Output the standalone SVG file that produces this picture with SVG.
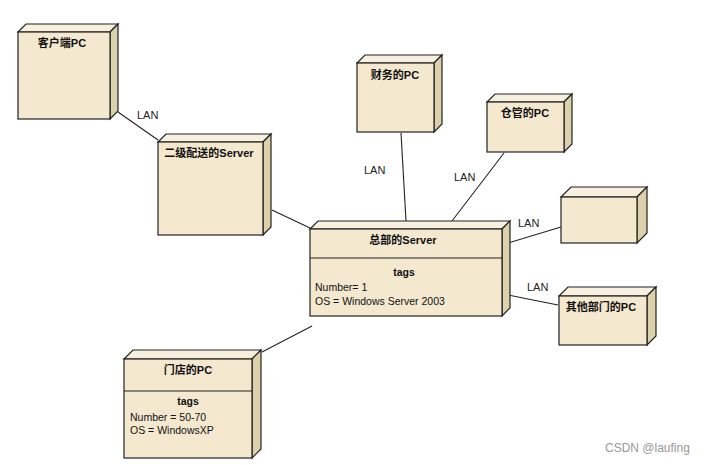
<svg xmlns="http://www.w3.org/2000/svg" width="707" height="465" viewBox="0 0 707 465">
<style>
.front{fill:#F4E8CF;stroke:#222;stroke-width:1.2}
.top{fill:#F8F0DE;stroke:#222;stroke-width:1.2}
.side{fill:#DCD1AA;stroke:#222;stroke-width:1.2}
.div{stroke:#222;stroke-width:1.2}
.title{font-family:"Liberation Sans","Noto Sans CJK SC",sans-serif;font-size:11px;font-weight:bold;fill:#111;text-anchor:middle}
.tag{font-family:"Liberation Sans",sans-serif;font-size:10.5px;fill:#111}
.tagh{font-family:"Liberation Sans",sans-serif;font-size:10.5px;font-weight:bold;fill:#111;text-anchor:middle}
.lan{font-family:"Liberation Sans",sans-serif;font-size:11px;fill:#222}
.conn line{stroke:#222;stroke-width:1.1}
</style>
<rect width="707" height="465" fill="#fff"/>
<g id="connectors" class="conn">
<line x1="118" y1="112" x2="158" y2="140"/>
<line x1="272" y1="210" x2="310" y2="228"/>
<line x1="401" y1="133" x2="406" y2="221"/>
<line x1="504" y1="153" x2="452" y2="221"/>
<line x1="561" y1="227" x2="508" y2="243"/>
<line x1="558" y1="305" x2="508" y2="295"/>
<line x1="312" y1="326" x2="262" y2="352"/>
<text class="lan" x="137" y="119">LAN</text>
<text class="lan" x="364" y="174">LAN</text>
<text class="lan" x="454" y="181">LAN</text>
<text class="lan" x="518" y="227">LAN</text>
<text class="lan" x="527" y="291">LAN</text>
</g>
<g id="client-pc">
<polygon class="top" points="18,32 26,24 118,24 110,32"/>
<polygon class="side" points="110,32 118,24 118,111 110,119"/>
<rect class="front" x="18" y="32" width="92" height="87"/>
<text class="title" x="62" y="47">客户端PC</text>
</g>
<g id="level2-server">
<polygon class="top" points="158,142 166,134 271,134 263,142"/>
<polygon class="side" points="263,142 271,134 271,227 263,235"/>
<rect class="front" x="158" y="142" width="105" height="93"/>
<text class="title" x="209" y="157">二级配送的Server</text>
</g>
<g id="finance-pc">
<polygon class="top" points="357,63 365,55 442,55 434,63"/>
<polygon class="side" points="434,63 442,55 442,124 434,132"/>
<rect class="front" x="357" y="63" width="77" height="69"/>
<text class="title" x="395" y="79">财务的PC</text>
</g>
<g id="warehouse-pc">
<polygon class="top" points="487,102 495,94 572,94 564,102"/>
<polygon class="side" points="564,102 572,94 572,144 564,152"/>
<rect class="front" x="487" y="102" width="77" height="50"/>
<text class="title" x="525" y="117">仓管的PC</text>
</g>
<g id="blank-node">
<polygon class="top" points="561,197 571,187 647,187 637,197"/>
<polygon class="side" points="637,197 647,187 647,233 637,243"/>
<rect class="front" x="561" y="197" width="76" height="46"/>
</g>
<g id="other-dept-pc">
<polygon class="top" points="559,296 568,287 656,287 647,296"/>
<polygon class="side" points="647,296 656,287 656,336 647,345"/>
<rect class="front" x="559" y="296" width="88" height="49"/>
<text class="title" x="601" y="311">其他部门的PC</text>
</g>
<g id="hq-server">
<polygon class="top" points="310,229 318,221 510,221 502,229"/>
<polygon class="side" points="502,229 510,221 510,308 502,316"/>
<rect class="front" x="310" y="229" width="192" height="87"/>
<line class="div" x1="310" y1="258" x2="502" y2="258"/>
<text class="title" x="403" y="244">总部的Server</text>
<text class="tagh" x="404" y="276">tags</text>
<text class="tag" x="315" y="291">Number= 1</text>
<text class="tag" x="315" y="305">OS = Windows Server 2003</text>
</g>
<g id="store-pc">
<polygon class="top" points="124,359 133,350 261,350 252,359"/>
<polygon class="side" points="252,359 261,350 261,449 252,458"/>
<rect class="front" x="124" y="359" width="128" height="99"/>
<line class="div" x1="124" y1="391" x2="252" y2="391"/>
<text class="title" x="188" y="374">门店的PC</text>
<text class="tagh" x="188" y="405">tags</text>
<text class="tag" x="130" y="421">Number = 50-70</text>
<text class="tag" x="130" y="434">OS = WindowsXP</text>
</g>
<text x="605" y="452" font-family="Liberation Sans,sans-serif" font-size="12" fill="#999">CSDN @laufing</text>
</svg>
